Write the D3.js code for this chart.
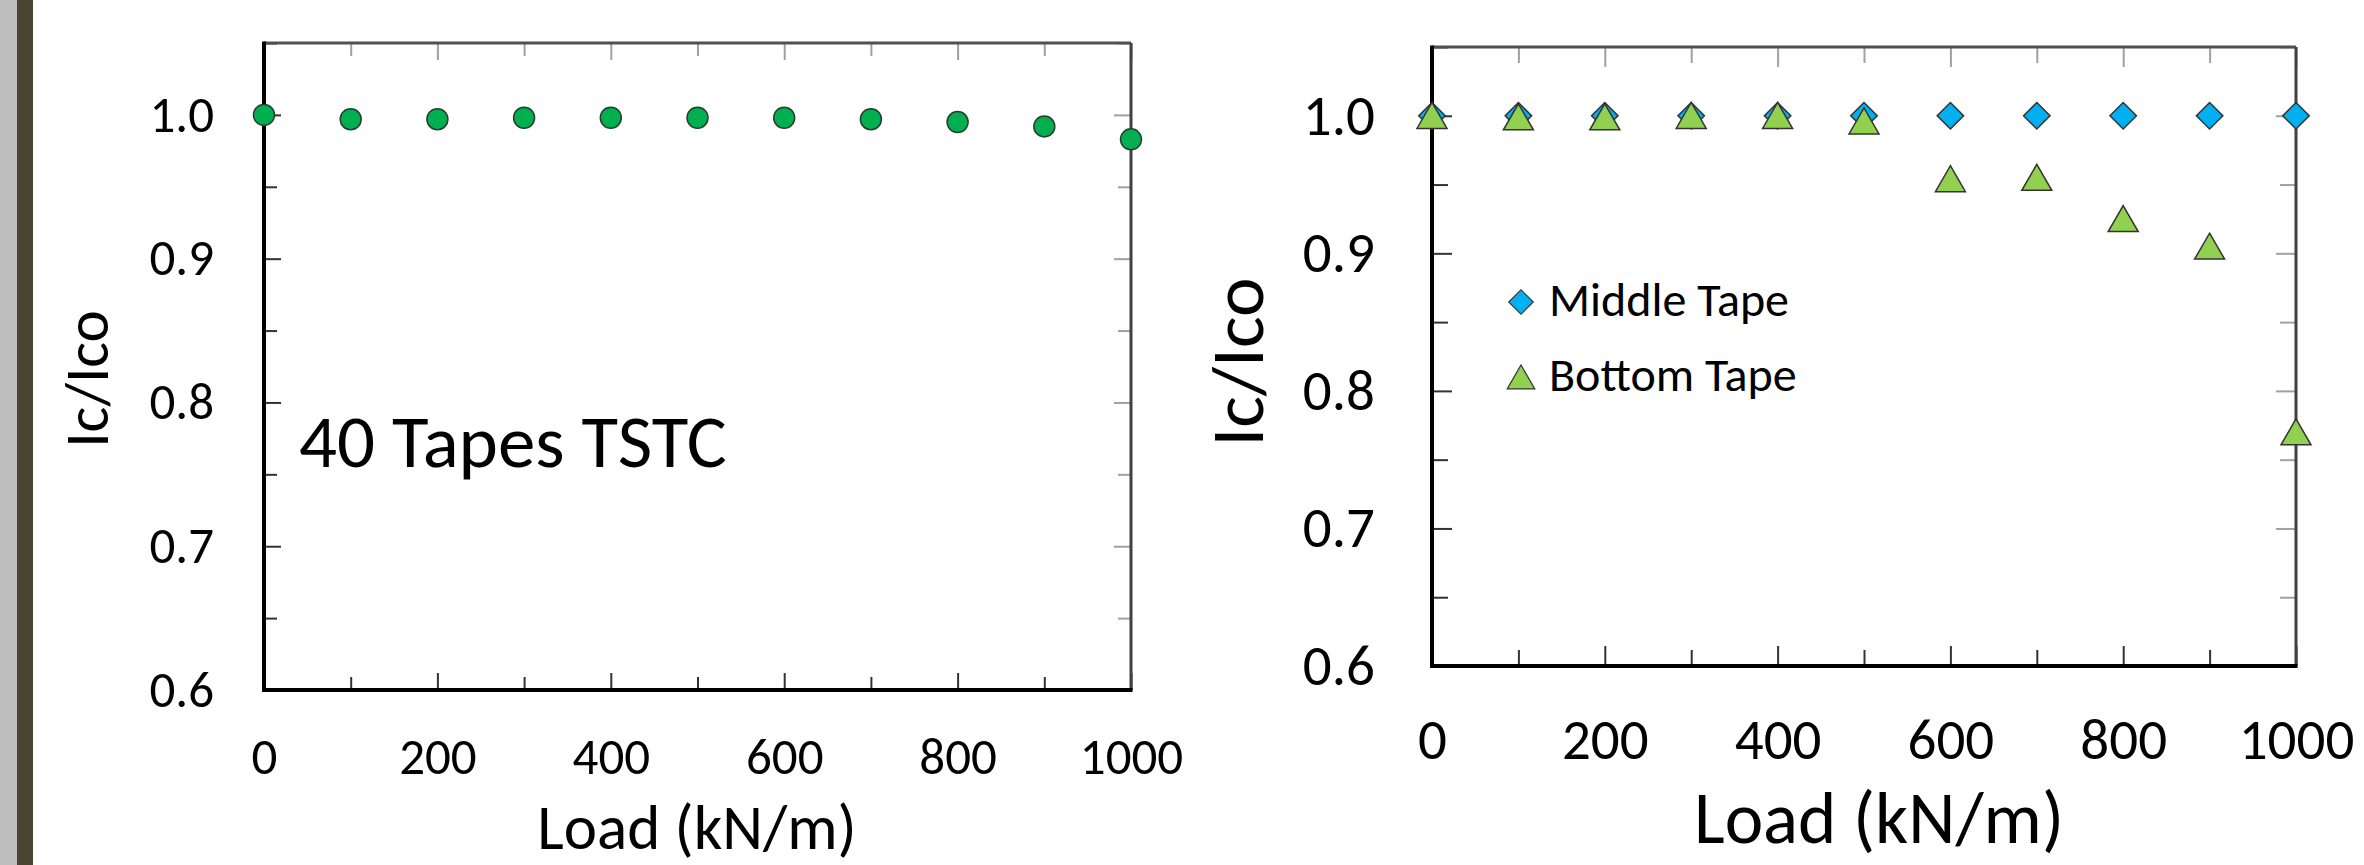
<!DOCTYPE html>
<html>
  <head>
    <meta http-equiv="Content-Type" content="text/html;charset=utf-8"/>
    <title>Ic/Ico vs Load</title>
    <script src="https://d3js.org/d3.v7.min.js"></script>
    <style>
      html, body { margin: 0; padding: 0; background: #fff; }
      svg { display: block; }
      text { font-family: Carlito, Calibri, 'Open Sans', sans-serif; fill: #000; }
    </style>
  </head>
  <body>
    <div id="content"></div>
    <script type="text/javascript">
      // data
      const loads = [0, 100, 200, 300, 400, 500, 600, 700, 800, 900, 1000]
      const tstc40 = [1.000, 0.997, 0.997, 0.998, 0.998, 0.998, 0.998, 0.997, 0.995, 0.992, 0.983]
      const middleTape = [1.000, 1.000, 1.000, 1.000, 1.000, 1.000, 1.000, 1.000, 1.000, 1.000, 1.000]
      const bottomTape = [1.000, 0.999, 0.999, 1.000, 1.000, 0.996, 0.954, 0.955, 0.925, 0.905, 0.770]
      const xTicks = [0, 200, 400, 600, 800, 1000]
      const xMinor = [100, 300, 500, 700, 900]
      const yTicks = [0.6, 0.7, 0.8, 0.9, 1.0]
      const yMinor = [0.65, 0.75, 0.85, 0.95, 1.05]
      const seriesNames = ['Middle Tape', 'Bottom Tape']

      const width = 2364, height = 865

      const svg = d3.select('#content').append('svg')
        .attr('width', width).attr('height', height)

      // slide edge on the far left
      svg.append('rect').attr('x', 0).attr('y', 0).attr('width', 17).attr('height', height).attr('fill', '#bebebe')
      svg.append('rect').attr('x', 17).attr('y', 0).attr('width', 16).attr('height', height).attr('fill', '#4a4530')

      function drawFrame(g, x, y, o) {
        const [x0, x1] = x.range(), [y0, y1] = y.range()

        // inward ticks, left + bottom dark, top + right grey
        g.append('g').attr('transform', 'translate(' + x0 + ',0)')
          .call(d3.axisLeft(y).tickValues(yMinor).tickFormat('').tickSize(-o.minor).tickSizeOuter(0))
          .call(a => a.select('.domain').remove())
          .selectAll('line').attr('stroke', '#333').attr('stroke-width', 2)
        g.append('g').attr('transform', 'translate(' + x0 + ',0)')
          .call(d3.axisLeft(y).tickValues(yTicks).tickFormat(d3.format('.1f')).tickSize(-o.major).tickSizeOuter(0).tickPadding(o.yPad))
          .call(a => a.select('.domain').remove())
          .call(a => a.selectAll('line').attr('stroke', '#333').attr('stroke-width', 2))
          .selectAll('text').attr('font-size', o.tickFont).attr('font-family', null)

        g.append('g').attr('transform', 'translate(0,' + y0 + ')')
          .call(d3.axisBottom(x).tickValues(xMinor).tickFormat('').tickSize(-o.minor).tickSizeOuter(0))
          .call(a => a.select('.domain').remove())
          .selectAll('line').attr('stroke', '#333').attr('stroke-width', 2)
        g.append('g').attr('transform', 'translate(0,' + y0 + ')')
          .call(d3.axisBottom(x).tickValues(xTicks).tickFormat(d3.format('d')).tickSize(-o.major).tickSizeOuter(0).tickPadding(o.xPad))
          .call(a => a.select('.domain').remove())
          .call(a => a.selectAll('line').attr('stroke', '#333').attr('stroke-width', 2))
          .selectAll('text').attr('font-size', o.tickFont).attr('font-family', null).attr('dy', '0.72em')

        g.append('g').attr('transform', 'translate(0,' + y1 + ')')
          .call(d3.axisTop(x).tickValues(xTicks.concat(xMinor)).tickFormat('').tickSize(-o.major).tickSizeOuter(0))
          .call(a => a.select('.domain').remove())
          .selectAll('line').attr('stroke', '#a0a0a0').attr('stroke-width', 2)
          .attr('y2', d => xTicks.includes(d) ? o.major : o.minor)
        g.append('g').attr('transform', 'translate(' + x1 + ',0)')
          .call(d3.axisRight(y).tickValues(yTicks.concat(yMinor)).tickFormat('').tickSize(-o.major).tickSizeOuter(0))
          .call(a => a.select('.domain').remove())
          .selectAll('line').attr('stroke', '#a0a0a0').attr('stroke-width', 2)
          .attr('x2', d => yTicks.includes(d) ? -o.major : -o.minor)

        g.append('line').attr('x1', x0).attr('x2', x1).attr('y1', y1).attr('y2', y1)
          .attr('stroke', '#505050').attr('stroke-width', 3)
        g.append('line').attr('x1', x1).attr('x2', x1).attr('y1', y1).attr('y2', y0)
          .attr('stroke', '#404040').attr('stroke-width', 3)
        g.append('line').attr('x1', x0).attr('x2', x0).attr('y1', y1 - 1.5).attr('y2', y0 + 2)
          .attr('stroke', '#000').attr('stroke-width', 4)
        g.append('line').attr('x1', x0).attr('x2', x1 + 1.5).attr('y1', y0).attr('y2', y0)
          .attr('stroke', '#000').attr('stroke-width', 4)

        // axis titles
        g.append('text').attr('x', o.xTitleX).attr('y', o.xTitleY)
          .attr('text-anchor', 'middle').attr('font-size', o.xTitleFont).text('Load (kN/m)')
        g.append('text').attr('transform', 'translate(' + o.yTitleX + ',' + o.yTitleY + ') rotate(-90)')
          .attr('text-anchor', 'middle').attr('font-size', o.yTitleFont).text('Ic/Ico')
      }

      // ---- left panel: 40 tapes TSTC ----
      const xL = d3.scaleLinear().domain([0, 1000]).range([264, 1131])
      const yL = d3.scaleLinear().domain([0.6, 1.05]).range([690, 43])
      const left = svg.append('g')
      drawFrame(left, xL, yL, {
        major: 17, minor: 13, yPad: 50, xPad: 47, tickFont: 51,
        xTitleX: 697, xTitleY: 849, xTitleFont: 63, yTitleX: 108, yTitleY: 379, yTitleFont: 61
      })
      left.append('text').attr('x', 299).attr('y', 467).attr('font-size', 75).text('40 Tapes TSTC')

      left.selectAll('circle.pt')
        .data(loads.map((d, i) => [d, tstc40[i]]))
        .enter()
        .append('circle')
        .attr('class', 'pt')
        .attr('cx', d => xL(d[0]))
        .attr('cy', d => yL(d[1]))
        .attr('r', 10.5)
        .attr('fill', '#00b050')
        .attr('stroke', '#2b3b30')
        .attr('stroke-width', 1.5)

      // ---- right panel: middle vs bottom tape ----
      const xR = d3.scaleLinear().domain([0, 1000]).range([1432, 2296])
      const yR = d3.scaleLinear().domain([0.6, 1.05]).range([666, 47])
      const right = svg.append('g')
      drawFrame(right, xR, yR, {
        major: 20, minor: 16, yPad: 57, xPad: 52, tickFont: 57,
        xTitleX: 1879, xTitleY: 843, xTitleFont: 73, yTitleX: 1263, yTitleY: 362, yTitleFont: 75
      })

      const diamond = d3.symbol().type(d3.symbolSquare).size(350)
      const triangle = d3.symbol().type(d3.symbolTriangle).size(390)
      const fills = { 'Middle Tape': '#00b0f0', 'Bottom Tape': '#92d050' }

      right.selectAll('path.mid')
        .data(loads.map((d, i) => [d, middleTape[i]]))
        .enter()
        .append('path')
        .attr('class', 'mid')
        .attr('d', diamond)
        .attr('transform', d => 'translate(' + xR(d[0]) + ',' + yR(d[1]) + ') rotate(45)')
        .attr('fill', fills['Middle Tape'])
        .attr('stroke', '#333').attr('stroke-width', 1.5)

      right.selectAll('path.bot')
        .data(loads.map((d, i) => [d, bottomTape[i]]))
        .enter()
        .append('path')
        .attr('class', 'bot')
        .attr('d', triangle)
        .attr('transform', d => 'translate(' + xR(d[0]) + ',' + (yR(d[1]) + 4) + ')')
        .attr('fill', fills['Bottom Tape'])
        .attr('stroke', '#333').attr('stroke-width', 1.5)

      // legend
      const legend = right.append('g')
      seriesNames.forEach((name, i) => {
        const cy = 302 + i * 75
        legend.append('path')
          .attr('d', i === 0 ? d3.symbol().type(d3.symbolSquare).size(300)() : d3.symbol().type(d3.symbolTriangle).size(330)())
          .attr('transform', 'translate(1521,' + (cy + (i === 0 ? 0 : 4)) + ')' + (i === 0 ? ' rotate(45)' : ''))
          .attr('fill', fills[name])
          .attr('stroke', '#333').attr('stroke-width', 1.2)
        legend.append('text').attr('x', 1549).attr('y', cy + 14)
          .attr('font-size', 48).text(name)
      })
    </script>
  </body>
</html>
